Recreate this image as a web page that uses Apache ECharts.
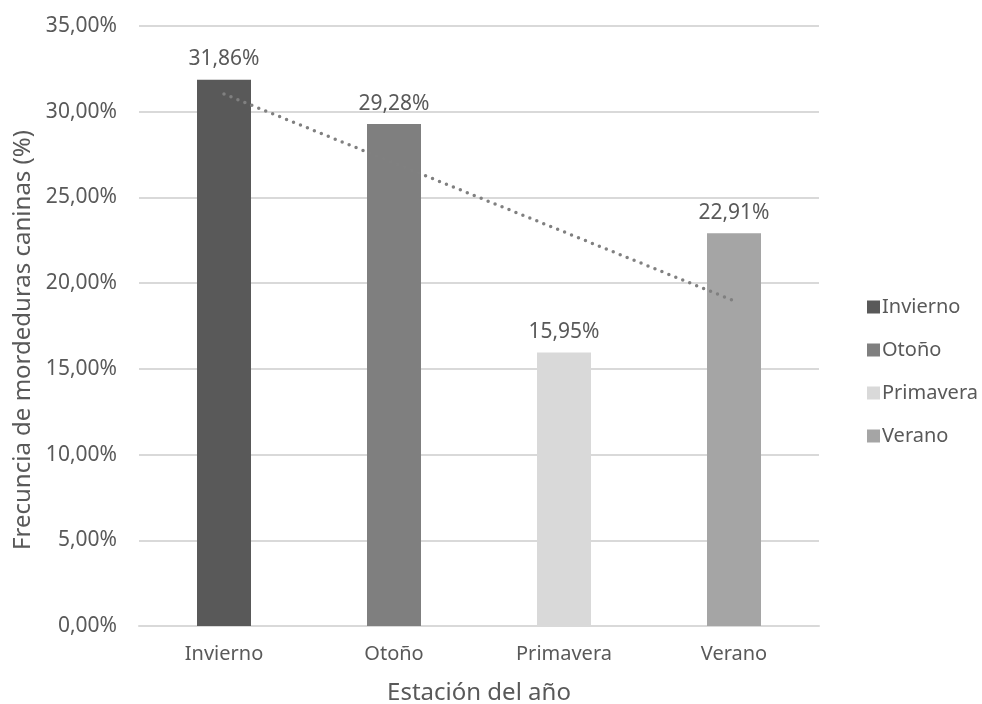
<!DOCTYPE html>
<html>
<head>
<meta charset="utf-8">
<script src="https://cdn.jsdelivr.net/npm/echarts@6/dist/echarts.min.js"></script>
<style>
  html, body { margin: 0; padding: 0; background: #fff; }
  #chart { width: 982px; height: 704px; }
</style>
</head>
<body>
<div id="chart"></div>
<script>
// estaciones del año
var seasons = ['Invierno', 'Otoño', 'Primavera', 'Verano'];
// frecuencia de mordeduras (%)
var values = [31.86, 29.28, 15.95, 22.91];
// línea de tendencia
var trend = [31.03, 27.01, 22.99, 18.97];
var colors = ['#595959', '#7f7f7f', '#d9d9d9', '#a5a5a5'];
var yTicks = [0, 5, 10, 15, 20, 25, 30, 35];

var font = 'Noto Sans';
var txt = '#595959';

function pct(v) {
  return v.toFixed(2).replace('.', ',') + '%';
}

var series = seasons.map(function (name, i) {
  return {
    name: name,
    type: 'bar',
    barWidth: 54,
    barGap: '-100%',
    itemStyle: { color: colors[i] },
    label: {
      show: true,
      position: 'top',
      distance: 10,
      color: txt,
      fontFamily: font,
      fontSize: 21,
      formatter: function (p) { return pct(p.value); }
    },
    data: seasons.map(function (s, j) { return j === i ? values[i] : '-'; })
  };
});

series.push({
  name: 'Tendencia',
  type: 'line',
  data: trend,
  symbol: 'none',
  silent: true,
  z: 5,
  lineStyle: { color: '#808080', width: 3.5, type: [0, 7.5], cap: 'round' }
});

var chart = echarts.init(document.getElementById('chart'));
chart.setOption({
  animation: false,
  grid: { left: 139, right: 163, top: 26, bottom: 78, outerBoundsMode: 'none' },
  legend: {
    data: seasons,
    orient: 'vertical',
    left: 862,
    top: 292,
    itemWidth: 13,
    itemHeight: 13,
    itemGap: 23,
    icon: 'rect',
    textStyle: { color: txt, fontFamily: font, fontSize: 20, padding: [0, 0, 0, -3] }
  },
  xAxis: {
    type: 'category',
    data: seasons,
    name: 'Estación del año',
    nameLocation: 'middle',
    nameGap: 55,
    nameTextStyle: { color: txt, fontFamily: font, fontSize: 24 },
    axisLine: { lineStyle: { color: '#d9d9d9', width: 2 } },
    axisTick: { show: false },
    axisLabel: { color: txt, fontFamily: font, fontSize: 20, margin: 18 }
  },
  yAxis: {
    type: 'value',
    min: yTicks[0],
    max: yTicks[yTicks.length - 1],
    interval: 5,
    name: 'Frecuncia de mordeduras caninas (%)',
    nameLocation: 'middle',
    nameGap: 104,
    nameTextStyle: { color: txt, fontFamily: font, fontSize: 24, padding: [0, 28, 0, 0] },
    axisLine: { show: false },
    axisTick: { show: false },
    splitLine: { lineStyle: { color: '#d9d9d9', width: 2 } },
    axisLabel: {
      color: txt, fontFamily: font, fontSize: 21, margin: 22,
      formatter: function (v) { return pct(v); }
    }
  },
  series: series
});
</script>
</body>
</html>
